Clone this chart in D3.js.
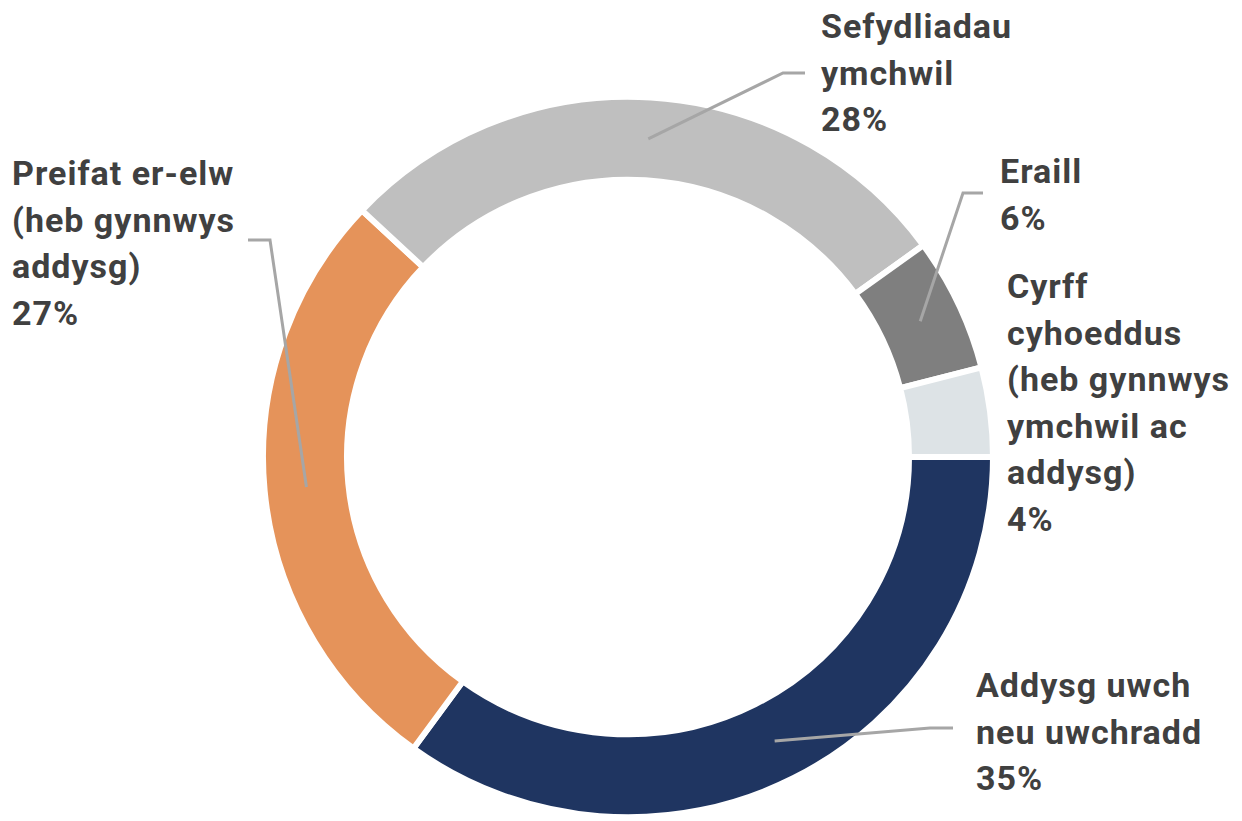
<!DOCTYPE html>
<html>
<head>
<meta charset="utf-8">
<script src="https://cdn.jsdelivr.net/npm/d3@7"></script>
<style>
  html, body { margin: 0; padding: 0; background: #fff; }
  text { font-family: Roboto, "Liberation Sans", sans-serif; font-weight: bold; fill: #404040; }
</style>
</head>
<body>
<div id="chart"></div>
<script>
// chart data
const categories = [
  'Addysg uwch neu uwchradd',
  'Preifat er-elw (heb gynnwys addysg)',
  'Sefydliadau ymchwil',
  'Eraill',
  'Cyrff cyhoeddus (heb gynnwys ymchwil ac addysg)'
]
const values = [35, 27, 28, 6, 4]
const labelLines = [
  ['Addysg uwch', 'neu uwchradd', '35%'],
  ['Preifat er-elw', '(heb gynnwys', 'addysg)', '27%'],
  ['Sefydliadau', 'ymchwil', '28%'],
  ['Eraill', '6%'],
  ['Cyrff', 'cyhoeddus', '(heb gynnwys', 'ymchwil ac', 'addysg)', '4%']
]
const colors = ['#1f3561', '#e5935a', '#bfbfbf', '#7f7f7f', '#dde3e6']

// layout
const width = 1242, height = 821
const cx = 628, cy = 457
const rOuter = 365, rInner = 281
const yScale = 0.987
const lineH = 46.5
// text position + leader elbow for each slice (null = no leader)
const labelPos = [
  { x: 976, y: 697, elbow: [[930, 728], [953, 728]] },
  { x: 12, y: 185, elbow: [[270, 240], [248, 240]] },
  { x: 821, y: 38, elbow: [[783, 73], [805, 73]] },
  { x: 1000, y: 183, elbow: [[963, 193], [983, 193]] },
  { x: 1007, y: 298, elbow: null }
]

const svg = d3.select('#chart').append('svg')
  .attr('width', width)
  .attr('height', height)

const g = svg.append('g')
  .attr('transform', 'translate(' + cx + ',' + cy + ') scale(1,' + yScale + ')')

const pie = d3.pie()
  .sort(null)
  .value(d => d)
  .startAngle(Math.PI / 2)
  .endAngle(Math.PI / 2 + 2 * Math.PI)

const arc = d3.arc().innerRadius(rInner).outerRadius(rOuter)
const arcs = pie(values)

g.selectAll('path.slice')
  .data(arcs)
  .enter()
  .append('path')
  .attr('class', 'slice')
  .attr('d', arc)
  .attr('fill', (d, i) => colors[i])
  .attr('stroke', '#fff')
  .attr('stroke-width', 6)

// leader lines
const line = d3.line()
arcs.forEach((d, i) => {
  const lp = labelPos[i]
  if (!lp.elbow) return
  const c = arc.centroid(d)
  const pts = [[c[0] + cx, c[1] * yScale + cy]].concat(lp.elbow)
  svg.append('path')
    .attr('d', line(pts))
    .attr('fill', 'none')
    .attr('stroke', '#a6a6a6')
    .attr('stroke-width', 3)
})

// labels
labelLines.forEach((lines, i) => {
  const lp = labelPos[i]
  const t = svg.append('text')
    .attr('x', lp.x)
    .attr('y', lp.y)
    .attr('font-size', '34px')
    .attr('letter-spacing', '1px')
  lines.forEach((s, j) => {
    t.append('tspan')
      .attr('x', lp.x)
      .attr('y', lp.y + j * lineH)
      .text(s)
  })
})
</script>
</body>
</html>
